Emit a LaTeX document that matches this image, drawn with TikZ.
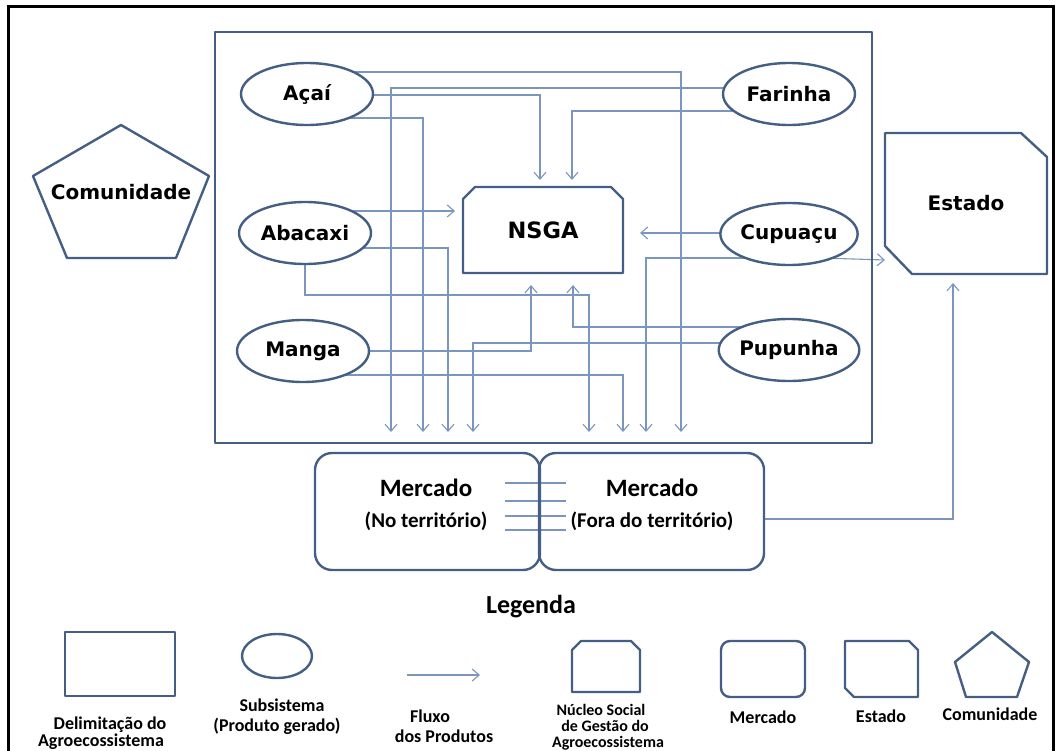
\documentclass[tikz,border=0pt]{standalone}
\usepackage{fontspec}
\setmainfont{DejaVu Sans}
\newfontfamily\calfont{Carlito}[BoldFont={Carlito Bold}]
\usetikzlibrary{arrows.meta,calc,backgrounds,shapes.geometric}
\definecolor{nodeb}{RGB}{68,94,132}
\definecolor{flowc}{RGB}{122,150,190}
\begin{document}
\begin{tikzpicture}[x=1pt,y=-1pt,
  every node/.style={inner sep=0pt,outer sep=0pt},
  border/.style={draw=nodeb,line width=2.4pt,line join=round},
  sub/.style={border,ellipse,fill=white,minimum width=132pt,minimum height=62pt,font=\fontsize{20}{24}\selectfont\bfseries},
  flow/.style={draw=flowc,line width=1.1pt},
  tip/.style={-{Straight Barb[length=7pt,width=12pt]}},
  lbl/.style={font=\calfont\bfseries\fontsize{18}{21}\selectfont,anchor=base},
  lbls/.style={font=\calfont\bfseries\fontsize{16}{19}\selectfont,anchor=base},
  big/.style={font=\fontsize{20}{24}\selectfont\bfseries},
  mk/.style={border,rectangle,rounded corners=17pt,minimum width=225pt,minimum height=117pt}
]
\useasboundingbox (0,0) rectangle (1060,751);
% outer frame
\draw[black,line width=3pt] (8,760) -- (8,7) -- (1053,7) -- (1053,760);

% agroecosystem boundary
\node[border,line width=2.8pt,minimum width=657pt,minimum height=411pt] (agro) at (543.5,237.5) {};

% subsystems
\node[sub] (acai) at (307,94) {Açaí};
\node[sub] (farinha) at (789,94) {Farinha};
\node[sub] (abacaxi) at (305,233) {Abacaxi};
\node[sub] (cupuacu) at (789,234) {Cupuaçu};
\node[sub] (manga) at (303,351) {Manga};
\node[sub] (pupunha) at (789,350) {Pupunha};

% NSGA
\node[minimum width=160pt,minimum height=86pt,font=\fontsize{22.5}{26}\selectfont\bfseries] (nsga) at (543,230) {NSGA};
\draw[border] (nsga.south west) -- ($(nsga.north west)+(0,12)$) -- ($(nsga.north west)+(12,0)$)
  -- ($(nsga.north east)+(-12,0)$) -- ($(nsga.north east)+(0,12)$) -- (nsga.south east) -- cycle;

% Estado
\node[minimum width=162pt,minimum height=141pt,big] (estado) at (966,203.5) {Estado};
\draw[border] (estado.north west) -- ($(estado.north east)+(-26,0)$) -- ($(estado.north east)+(0,24)$)
  -- (estado.south east) -- ($(estado.south west)+(27,0)$) -- ($(estado.south west)+(0,-28)$) -- cycle;

% Comunidade
\draw[border] (121,125) -- (209,176) -- (176,258) -- (67,258) -- (33,176) -- cycle;
\node[big] (com) at (121,192) {Comunidade};

% Mercados
\node[mk] (mno) at (427.5,511.5) {};
\node[mk] (mfora) at (651.5,511.5) {};
\node[anchor=base,font=\calfont\bfseries\fontsize{25}{28}\selectfont] (mno1) at (426,496) {Mercado};
\node[anchor=base,font=\calfont\bfseries\fontsize{21}{24}\selectfont] (mno2) at (426,527) {(No território)};
\node[anchor=base,font=\calfont\bfseries\fontsize{25}{28}\selectfont] (mfo1) at (652,496) {Mercado};
\node[anchor=base,font=\calfont\bfseries\fontsize{21}{24}\selectfont] (mfo2) at (652,527) {(Fora do território)};

% arrow end points
\coordinate (b1) at (391,432);
\coordinate (b2) at (423,432);
\coordinate (b3) at (448,432);
\coordinate (b4) at (473,432);
\coordinate (b5) at (589,432);
\coordinate (b6) at (623,432);
\coordinate (b7) at (646,432);
\coordinate (b8) at (681,432);
\coordinate (nt1) at (540,180);
\coordinate (nt2) at (572,180);
\coordinate (nb1) at (531,285);
\coordinate (nb2) at (573,285);
\coordinate (nl) at (455,211);
\coordinate (nr) at (640,233);
\coordinate (es1) at (885,260);
\coordinate (es2) at (953,283);

\begin{scope}[on background layer]
\draw[flow,tip] (acai.center |- 0,72) -| (b8);
\draw[flow,tip] (farinha.center |- 0,88) -| (b1);
\draw[flow,tip] (acai.center |- 0,95) -| (nt1);
\draw[flow,tip] (farinha.center |- 0,111) -| (nt2);
\draw[flow,tip] (acai.center |- 0,118) -| (b2);
\draw[flow,tip] (abacaxi.center |- 0,211) -- (nl);
\draw[flow,tip] (abacaxi.center |- 0,248) -| (b3);
\draw[flow,tip] (abacaxi.center) |- (b5 |- 0,295) -- (b5);
\draw[flow,tip] (cupuacu.center |- 0,233) -- (nr);
\draw[flow,tip] (cupuacu.center |- 0,258) -| (b7);
\draw[flow,tip] (cupuacu.center |- 0,257) -- (es1);
\draw[flow,tip] (pupunha.center |- 0,327) -| (nb2);
\draw[flow,tip] (pupunha.center |- 0,343) -| (b4);
\draw[flow,tip] (manga.center |- 0,351) -| (nb1);
\draw[flow,tip] (manga.center |- 0,375) -| (b6);
\draw[flow,tip] (mfora.east |- 0,519) -| (es2);
\foreach \yy in {483,501,516,530}{
  \draw[flow] ($(mno.east |- 0,\yy)+(-35,0)$) -- ($(mfora.west |- 0,\yy)+(27,0)$);
}
\end{scope}

% Legend
\node[font=\calfont\bfseries\fontsize{26}{30}\selectfont] (leg) at (531,607) {Legenda};
\node[border,minimum width=110pt,minimum height=64pt] (lrect) at (120,664) {};
\node[border,ellipse,minimum width=70pt,minimum height=44pt] (lell) at (277,656) {};
\coordinate (la1) at (407,675);
\coordinate (la2) at (480,675);
\draw[flow,tip] (la1) -- (la2);
\node[minimum width=68pt,minimum height=51pt] (lnsga) at (606,666.5) {};
\draw[border] (lnsga.south west) -- ($(lnsga.north west)+(0,9)$) -- ($(lnsga.north west)+(9,0)$)
  -- ($(lnsga.north east)+(-9,0)$) -- ($(lnsga.north east)+(0,9)$) -- (lnsga.south east) -- cycle;
\node[border,rounded corners=9pt,minimum width=84pt,minimum height=56pt] (lmk) at (763,669) {};
\node[minimum width=73pt,minimum height=56pt] (lest) at (881.5,669) {};
\draw[border] (lest.north west) -- ($(lest.north east)+(-9,0)$) -- ($(lest.north east)+(0,9)$)
  -- (lest.south east) -- ($(lest.south west)+(9,0)$) -- ($(lest.south west)+(0,-9)$) -- cycle;
\draw[border] (992,632) -- (1029,662) -- (1017,697) -- (966,697) -- (955,662) -- cycle;

\node[lbl] (t1) at (110,729) {Delimitação do};
\node[lbl] (t2) at (101,746) {Agroecossistema};
\node[lbl] (t3) at (282,711) {Subsistema};
\node[lbl] (t4) at (277,731) {(Produto gerado)};
\node[lbl] (t5) at (430,722) {Fluxo};
\node[lbl] (t6) at (444,742) {dos Produtos};
\node[lbls] (t7) at (601,715) {Núcleo Social};
\node[lbls] (t8) at (605,731.5) {de Gestão do};
\node[lbls] (t9) at (608,747) {Agroecossistema};
\node[lbl] (t10) at (763,723) {Mercado};
\node[lbl] (t11) at (881,722) {Estado};
\node[lbl] (t12) at (990,720) {Comunidade};
\end{tikzpicture}
\end{document}
